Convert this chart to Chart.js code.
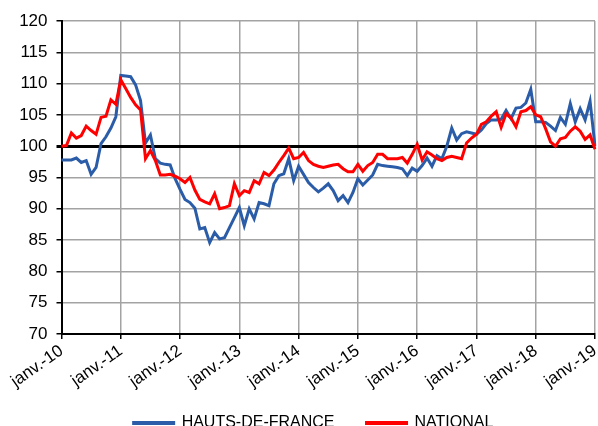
<!DOCTYPE html>
<html>
<head>
<meta charset="utf-8">
<script src="https://cdn.jsdelivr.net/npm/chart.js@4.4.0/dist/chart.umd.min.js"></script>
<style>
  html, body { margin: 0; padding: 0; background: #fff; overflow: hidden; }
  #wrap { position: relative; width: 598px; height: 448px; }
</style>
</head>
<body>
<div id="wrap"><canvas id="chart"></canvas></div>
<script>
// one label per January, the chart is monthly from janv.-10 to janv.-19
const yearLabels = ['janv.-10', 'janv.-11', 'janv.-12', 'janv.-13', 'janv.-14',
  'janv.-15', 'janv.-16', 'janv.-17', 'janv.-18', 'janv.-19'];

const hautsDeFrance = [
  97.8, 97.8, 97.8, 98.1, 97.4, 97.7, 95.5, 96.6, 100.4, 101.5, 102.9, 104.7,
  111.3, 111.2, 111.1, 109.8, 107.3, 100.5, 101.8, 98.0, 97.3, 97.1, 97.0, 94.8,
  93.1, 91.5, 91.0, 90.1, 86.8, 87.0, 84.6, 86.2, 85.2, 85.4, 87.0, 88.6,
  90.2, 87.3, 90.0, 88.4, 91.0, 90.8, 90.5, 94.0, 95.3, 95.6, 98.0, 94.5,
  96.8, 95.5, 94.2, 93.4, 92.7, 93.3, 94.0, 92.9, 91.3, 92.1, 91.0, 92.6,
  94.8, 93.8, 94.6, 95.4, 97.1, 96.9, 96.8, 96.7, 96.6, 96.4, 95.3, 96.5,
  96.0, 96.9, 98.1, 96.8, 98.5, 98.0, 100.0, 102.9, 101.0, 102.0, 102.3, 102.1,
  101.9, 102.6, 103.6, 104.2, 104.2, 104.3, 105.7, 104.4, 106.1, 106.2, 106.9, 109.1,
  103.9, 103.9, 103.8, 103.2, 102.5, 104.6, 103.5, 106.8, 103.9, 106.0, 104.2, 107.2,
  100.0
];

const national = [
  100.0, 100.1, 102.1, 101.3, 101.7, 103.2, 102.5, 101.9, 104.6, 104.8, 107.4, 106.7,
  110.6, 109.2, 107.8, 106.6, 105.8, 98.0, 99.3, 97.7, 95.4, 95.4, 95.5, 95.2,
  94.8, 94.2, 95.0, 93.0, 91.5, 91.1, 90.8, 92.4, 90.0, 90.2, 90.5, 94.0,
  92.1, 92.9, 92.6, 94.5, 94.0, 95.8, 95.3, 96.2, 97.4, 98.5, 99.7, 98.0,
  98.2, 99.0, 97.7, 97.1, 96.8, 96.6, 96.8, 97.0, 97.1, 96.4, 95.9, 95.9,
  97.1, 96.0, 96.9, 97.4, 98.7, 98.7, 98.0, 98.0, 98.0, 98.2, 97.3, 98.7,
  100.3, 97.8, 99.1, 98.6, 98.0, 97.7, 98.2, 98.4, 98.2, 98.0, 100.5, 101.3,
  101.9, 103.5, 103.9, 104.8, 105.5, 103.0, 105.2, 104.5, 103.1, 105.5, 105.7, 106.3,
  105.0, 104.7, 102.8, 100.7, 100.0, 101.2, 101.4, 102.4, 103.1, 102.4, 101.1, 101.8,
  99.5
];

const yMin = 70;
const yMax = 120;
const yStep = 5;
const baseLine = 100;

const months = hautsDeFrance.map((v, i) => (i % 12 === 0 ? yearLabels[i / 12] : ''));

const gridGray = '#a3a3a3';

Chart.defaults.font.family = '"Liberation Sans", Arial, sans-serif';
Chart.defaults.font.size = 16;
Chart.defaults.color = '#000';

// the legend sits a little right of the canvas centre in the original
const moveLegend = {
  id: 'moveLegend',
  afterLayout(chart) {
    const lg = chart.legend;
    lg.left += 16;
    lg.right += 16;
    lg.top -= 7;
    lg.bottom -= 7;
  }
};

new Chart(document.getElementById('chart'), {
  type: 'line',
  data: {
    labels: months,
    datasets: [
      {
        label: 'HAUTS-DE-FRANCE',
        data: hautsDeFrance,
        borderColor: '#2b5ca8',
        backgroundColor: '#2b5ca8',
        borderWidth: 3,
        pointRadius: 0,
        tension: 0,
        order: 1
      },
      {
        label: 'NATIONAL',
        data: national,
        borderColor: '#ff0000',
        backgroundColor: '#ff0000',
        borderWidth: 3,
        pointRadius: 0,
        tension: 0,
        order: 0
      }
    ]
  },
  plugins: [moveLegend],
  options: {
    responsive: true,
    maintainAspectRatio: false,
    animation: false,
    layout: { padding: { top: 21, left: 0, right: 3, bottom: 0 } },
    plugins: {
      tooltip: { enabled: false },
      legend: {
        position: 'bottom',
        labels: {
          boxWidth: 40,
          boxHeight: 1,
          padding: 32,
          sort: (a, b) => a.datasetIndex - b.datasetIndex
        }
      }
    },
    scales: {
      x: {
        afterFit: (scale) => {
          scale.height = 56;
          scale.paddingLeft = 0;
          scale.paddingRight = 0;
        },
        border: { color: '#000', width: 2 },
        grid: {
          color: (ctx) => (ctx.index % 12 === 0 ? gridGray : 'rgba(0,0,0,0)'),
          tickColor: (ctx) => (ctx.index % 12 === 0 ? '#000' : 'rgba(0,0,0,0)'),
          lineWidth: 1.5,
          tickLength: 5
        },
        ticks: {
          autoSkip: false,
          minRotation: 35,
          maxRotation: 35,
          padding: 2,
          font: { size: 17 },
          callback: (val, i) => months[i]
        }
      },
      y: {
        min: yMin,
        max: yMax,
        afterFit: (scale) => { scale.width = 61.5; },
        border: { color: '#000', width: 2 },
        grid: {
          color: (ctx) => (ctx.tick && ctx.tick.value === baseLine ? '#000' : gridGray),
          lineWidth: (ctx) => (ctx.tick && ctx.tick.value === baseLine ? 3 : 1.5),
          tickColor: '#000',
          tickLength: 5
        },
        ticks: {
          stepSize: yStep,
          padding: 9,
          font: { size: 17 }
        }
      }
    }
  }
});
</script>
</body>
</html>
